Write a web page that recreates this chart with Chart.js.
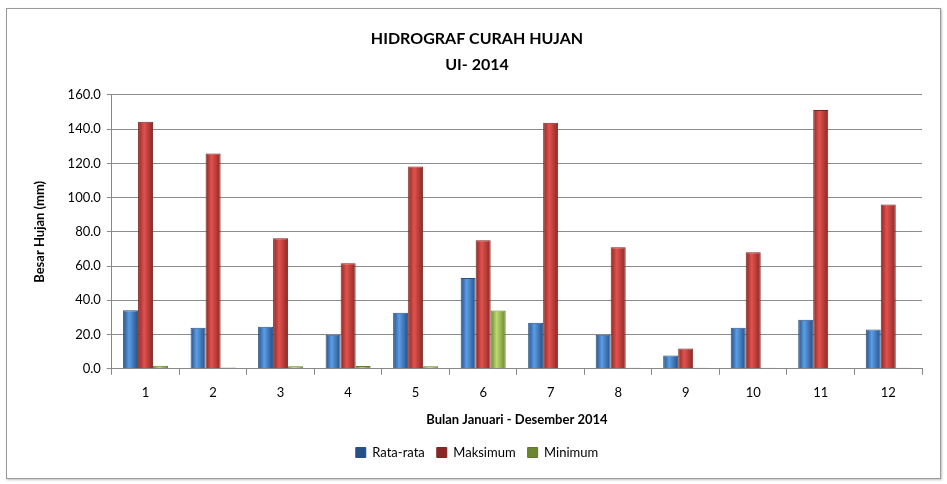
<!DOCTYPE html>
<html>
<head>
<meta charset="utf-8">
<script src="https://cdn.jsdelivr.net/npm/chart.js@4/dist/chart.umd.min.js"></script>
<style>
html,body{margin:0;padding:0;background:#fff;}
#wrap{position:relative;width:947px;height:484px;}
#frame{position:absolute;left:6px;top:8px;width:933px;height:469px;border:1px solid #9a9a9a;box-shadow:1px 1px 2px rgba(0,0,0,0.25);pointer-events:none;}
canvas{position:absolute;left:0;top:0;}
</style>
</head>
<body>
<div id="wrap"><div id="frame"></div><canvas id="c" width="947" height="484"></canvas></div>
<script>
const categories = ['1','2','3','4','5','6','7','8','9','10','11','12'];
const rataRata = [34.2, 24.0, 24.5, 19.9, 32.7, 53.0, 26.9, 19.9, 7.8, 24.0, 28.7, 22.9];
const maksimum = [144.3, 125.7, 76.3, 61.7, 118.1, 75.1, 143.7, 71.0, 11.9, 68.1, 151.2, 96.0];
const minimum = [1.8, 0.8, 1.5, 1.6, 1.5, 34.0, 0.0, 0.6, 0.6, 0.6, 0.4, 0.6];
const seriesNames = ['Rata-rata', 'Maksimum', 'Minimum'];
const titleLines = ['HIDROGRAF CURAH HUJAN', 'UI- 2014'];
const yTitle = 'Besar Hujan (mm)';
const xTitle = 'Bulan Januari - Desember 2014';

const CAT = 0.667;
const FONT = 'Lato, "Open Sans", sans-serif';

const palettes = [
  {dark:'#254f85', light:'#5c9de6', mid:'#4a7ebb', border:'#2b4f7e'},
  {dark:'#8a2724', light:'#e2524e', mid:'#c0504d', border:'#7d2320'},
  {dark:'#6b8530', light:'#bcdb6d', mid:'#9bbb59', border:'#62792c'}
];

function barFill(p){
  return function(ctx){
    if (ctx.type !== 'data') return p.mid;
    const chart = ctx.chart;
    const xs = chart.scales.x;
    if (!xs || !chart.chartArea) return p.mid;
    const n = chart.data.labels.length;
    const cw = (xs.right - xs.left) / n;
    const w = cw * CAT / 3;
    const c = xs.getPixelForValue(ctx.dataIndex);
    const left = c - 1.5 * w + ctx.datasetIndex * w;
    if (!isFinite(left)) return p.mid;
    const g = chart.ctx.createLinearGradient(left, 0, left + w, 0);
    g.addColorStop(0, p.dark);
    g.addColorStop(0.4, p.light);
    g.addColorStop(1, p.dark);
    return g;
  };
}

const dataSets = [rataRata, maksimum, minimum].map((d, i) => ({
  label: seriesNames[i],
  data: d,
  backgroundColor: barFill(palettes[i]),
  borderColor: palettes[i].border,
  borderWidth: 1,
  borderSkipped: 'bottom',
  categoryPercentage: CAT,
  barPercentage: 1.0
}));

new Chart(document.getElementById('c'), {
  type: 'bar',
  data: { labels: categories, datasets: dataSets },
  options: {
    responsive: false,
    animation: false,
    devicePixelRatio: 1,
    layout: { padding: { left: 32, right: 25, top: 14, bottom: 15 } },
    plugins: {
      title: {
        display: true,
        text: titleLines,
        color: '#000',
        font: { family: FONT, size: 16, weight: 'bold', lineHeight: 1.62 },
        padding: { top: 12, bottom: 17 }
      },
      legend: {
        position: 'bottom',
        labels: {
          color: '#000',
          font: { family: FONT, size: 13 },
          boxWidth: 10,
          boxHeight: 10,
          padding: 12
        }
      },
      tooltip: { enabled: false }
    },
    scales: {
      x: {
        grid: { display: true, drawOnChartArea: false, drawTicks: true, tickLength: 6, color: '#888', offset: true },
        border: { display: true, color: '#888' },
        ticks: { color: '#000', font: { family: FONT, size: 13 }, padding: 10.5 },
        title: { display: true, text: xTitle, color: '#000', font: { family: FONT, size: 13, weight: 'bold' }, padding: { top: 1, bottom: 6 } }
      },
      y: {
        min: 0, max: 160,
        ticks: { stepSize: 20, color: '#000', font: { family: FONT, size: 13 }, padding: 6, callback: v => Number(v).toFixed(1) },
        grid: { color: '#8c8c8c', lineWidth: 1, tickLength: 5, drawTicks: true },
        border: { display: true, color: '#888' },
        title: { display: true, text: yTitle, color: '#000', font: { family: FONT, size: 13, weight: 'bold' }, padding: { top: 0, bottom: 14 } }
      }
    }
  }
});
</script>
</body>
</html>
